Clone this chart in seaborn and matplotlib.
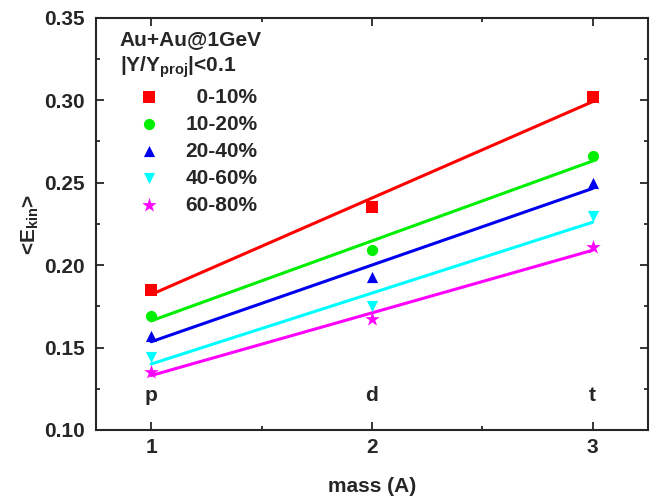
import numpy as np
import pandas as pd
import seaborn as sns
from matplotlib import pyplot as plt
from matplotlib.ticker import MultipleLocator

# mass number of p, d, t
mass = [1, 2, 3]
particles = ["p", "d", "t"]
centralities = ["  0-10%", "10-20%", "20-40%", "40-60%", "60-80%"]

ekin_0_10 = [0.185, 0.235, 0.302]
ekin_10_20 = [0.169, 0.209, 0.266]
ekin_20_40 = [0.157, 0.193, 0.250]
ekin_40_60 = [0.144, 0.175, 0.230]
ekin_60_80 = [0.135, 0.167, 0.211]

colors = ["#ff0000", "#00ee00", "#0000ee", "#00ffff", "#ff00ff"]
markers = ["s", "o", "^", "v", "*"]

series = [ekin_0_10, ekin_10_20, ekin_20_40, ekin_40_60, ekin_60_80]
df = pd.concat(
    [pd.DataFrame({"mass": mass, "ekin": vals, "cent": c})
     for c, vals in zip(centralities, series)],
    ignore_index=True,
)

FS = 15

sns.set_style("ticks")
plt.rcParams["font.family"] = ["Liberation Sans", "DejaVu Sans"]
plt.rcParams["font.weight"] = "bold"
plt.rcParams["mathtext.default"] = "regular"

fig, ax = plt.subplots(figsize=(6.51, 4.97), dpi=100)
fig.subplots_adjust(left=0.1475, right=0.995, top=0.964, bottom=0.135)

for cent, color, marker in zip(centralities, colors, markers):
    sub = df[df.cent == cent]
    sns.regplot(data=sub, x="mass", y="ekin", ci=None, scatter=False,
                color=color, line_kws={"lw": 2.2}, ax=ax)
    sns.scatterplot(data=sub, x="mass", y="ekin", color=color, marker=marker,
                    s=120 if marker == "*" else 65, linewidth=0,
                    label=cent, ax=ax, zorder=3)

for m, p in zip(mass, particles):
    ax.text(m, 0.121, p, ha="center", va="center", fontsize=FS, fontweight="bold")

ax.set_xlim(0.75, 3.25)
ax.set_ylim(0.10, 0.35)
ax.xaxis.set_major_locator(MultipleLocator(1))
ax.xaxis.set_minor_locator(MultipleLocator(0.5))
ax.yaxis.set_major_locator(MultipleLocator(0.05))
ax.yaxis.set_minor_locator(MultipleLocator(0.025))
ax.yaxis.set_major_formatter(plt.FormatStrFormatter("%.2f"))
ax.tick_params(which="both", direction="in", top=True, right=True, width=1.3,
               labelsize=FS)
ax.tick_params(axis="x", pad=6)
ax.tick_params(axis="y", pad=8)
ax.tick_params(which="major", length=6)
ax.tick_params(which="minor", length=3)
for lab in ax.get_xticklabels() + ax.get_yticklabels():
    lab.set_fontweight("bold")
for sp in ax.spines.values():
    sp.set_linewidth(1.5)
    sp.set_visible(True)

ax.set_xlabel("mass (A)", fontsize=FS, fontweight="bold", labelpad=14)
ax.set_ylabel(r"<E$_{kin}$>", fontsize=FS, fontweight="bold", labelpad=2)

leg = ax.legend(title="Au+Au@1GeV\n|Y/Y$_{proj}$|<0.1", loc="upper left",
                bbox_to_anchor=(0.02, 1.0),
                frameon=False, fontsize=FS, title_fontsize=FS,
                handlelength=2.8, handletextpad=0.35, labelspacing=0.38,
                borderaxespad=0.2, borderpad=0.4, alignment="left")
leg.get_title().set_fontweight("bold")
leg.get_title().set_linespacing(1.3)
for t in leg.get_texts():
    t.set_fontweight("bold")

fig.savefig("out.png", dpi=100)
